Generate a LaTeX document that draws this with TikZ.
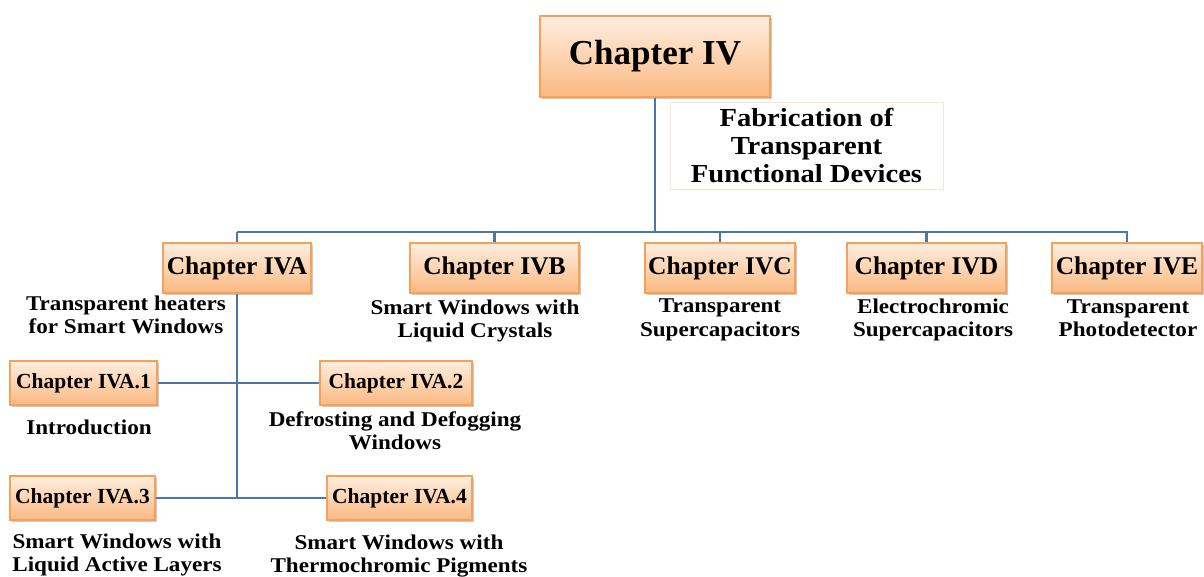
\documentclass[tikz,border=0pt]{standalone}
\usepackage{fontspec}
\setmainfont{Liberation Serif}
\newfontfamily\widefont[FakeStretch=1.1]{Liberation Serif}
\usetikzlibrary{shadows}
\definecolor{boxtop}{HTML}{FFEEDF}
\definecolor{boxbot}{HTML}{FAB982}
\definecolor{boxedge}{HTML}{F6A05A}
\definecolor{linkblue}{HTML}{4A76AC}
\definecolor{capedge}{HTML}{FBE3D0}
\tikzset{
  chapbox/.style={draw=boxedge, line width=1.2pt, top color=boxtop, bottom color=boxbot,
    inner sep=0pt, align=center, font=\bfseries,
    drop shadow={shadow xshift=1.5pt, shadow yshift=-2pt, opacity=0.35, fill=black!60}},
  mainbox/.style={chapbox, minimum width=230pt, minimum height=81pt, font=\bfseries\fontsize{35}{40}\selectfont},
  secbox/.style={chapbox, minimum height=50pt, font=\bfseries\fontsize{25.5}{28}\selectfont},
  subbox/.style={chapbox, minimum height=44pt, font=\bfseries\fontsize{21.5}{24}\selectfont},
  desc/.style={align=center, inner sep=0pt, font=\widefont\bfseries\fontsize{21}{23.5}\selectfont},
  link/.style={draw=linkblue, line width=2.4pt},
}
\begin{document}
\begin{tikzpicture}[x=1pt,y=1pt]
\useasboundingbox (0,0) rectangle (1204,-576);

% top level
\node[mainbox] (iv) at (655,-56.5) {Chapter IV};
\node[draw=capedge, line width=1pt, fill=white, minimum width=273pt, minimum height=87pt,
      align=center, inner sep=0pt, font=\widefont\bfseries\fontsize{26}{28}\selectfont]
      (ivcap) at (806.5,-145.5) {Fabrication of\\Transparent\\Functional Devices};

% second level
\node[secbox, minimum width=148pt] (iva) at (237,-268) {Chapter IVA};
\node[secbox, minimum width=169pt] (ivb) at (494.5,-268) {Chapter IVB};
\node[secbox, minimum width=150pt] (ivc) at (720,-268) {Chapter IVC};
\node[secbox, minimum width=159pt] (ivd) at (926.5,-268) {Chapter IVD};
\node[secbox, minimum width=150pt] (ive) at (1127,-268) {Chapter IVE};

\node[desc] (dA) at (126,-315) {Transparent heaters\\for Smart Windows};
\node[desc] (dB) at (475,-321) {Smart Windows with\\Liquid Crystals};
\node[desc] (dC) at (720,-320) {Transparent\\Supercapacitors};
\node[desc] (dD) at (933,-320) {Electrochromic\\Supercapacitors};
\node[desc] (dE) at (1128,-318) {Transparent\\Photodetector};

% third level
\node[subbox, minimum width=147pt] (a1) at (83.5,-383) {Chapter IVA.1};
\node[subbox, minimum width=152pt] (a2) at (396,-383) {Chapter IVA.2};
\node[subbox, minimum width=145pt] (a3) at (82.5,-498) {Chapter IVA.3};
\node[subbox, minimum width=145pt] (a4) at (399.5,-498) {Chapter IVA.4};

\node[desc] (dA1) at (89,-427) {Introduction};
\node[desc] (dA2) at (395,-431) {Defrosting and Defogging\\Windows};
\node[desc] (dA3) at (117,-555) {Smart Windows with\\Liquid Active Layers};
\node[desc] (dA4) at (399,-556) {Smart Windows with\\Thermochromic Pigments};

% connectors
\coordinate (busL) at (237,-232);
\coordinate (busR) at (1128,-232);
\coordinate (ivaEnd) at (237,-498);
\draw[link] (busL) -- (busR);
\draw[link] (iv.south) -- (iv.south |- busL);
\foreach \n in {iva,ivb,ivc,ivd,ive}
  \draw[link] (\n.north) -- (\n.north |- busL);
\draw[link] (iva.south) -- (ivaEnd);
\draw[link] (a1.east) -- (a2.west);
\draw[link] (a3.east) -- (a4.west);
\end{tikzpicture}
\end{document}
